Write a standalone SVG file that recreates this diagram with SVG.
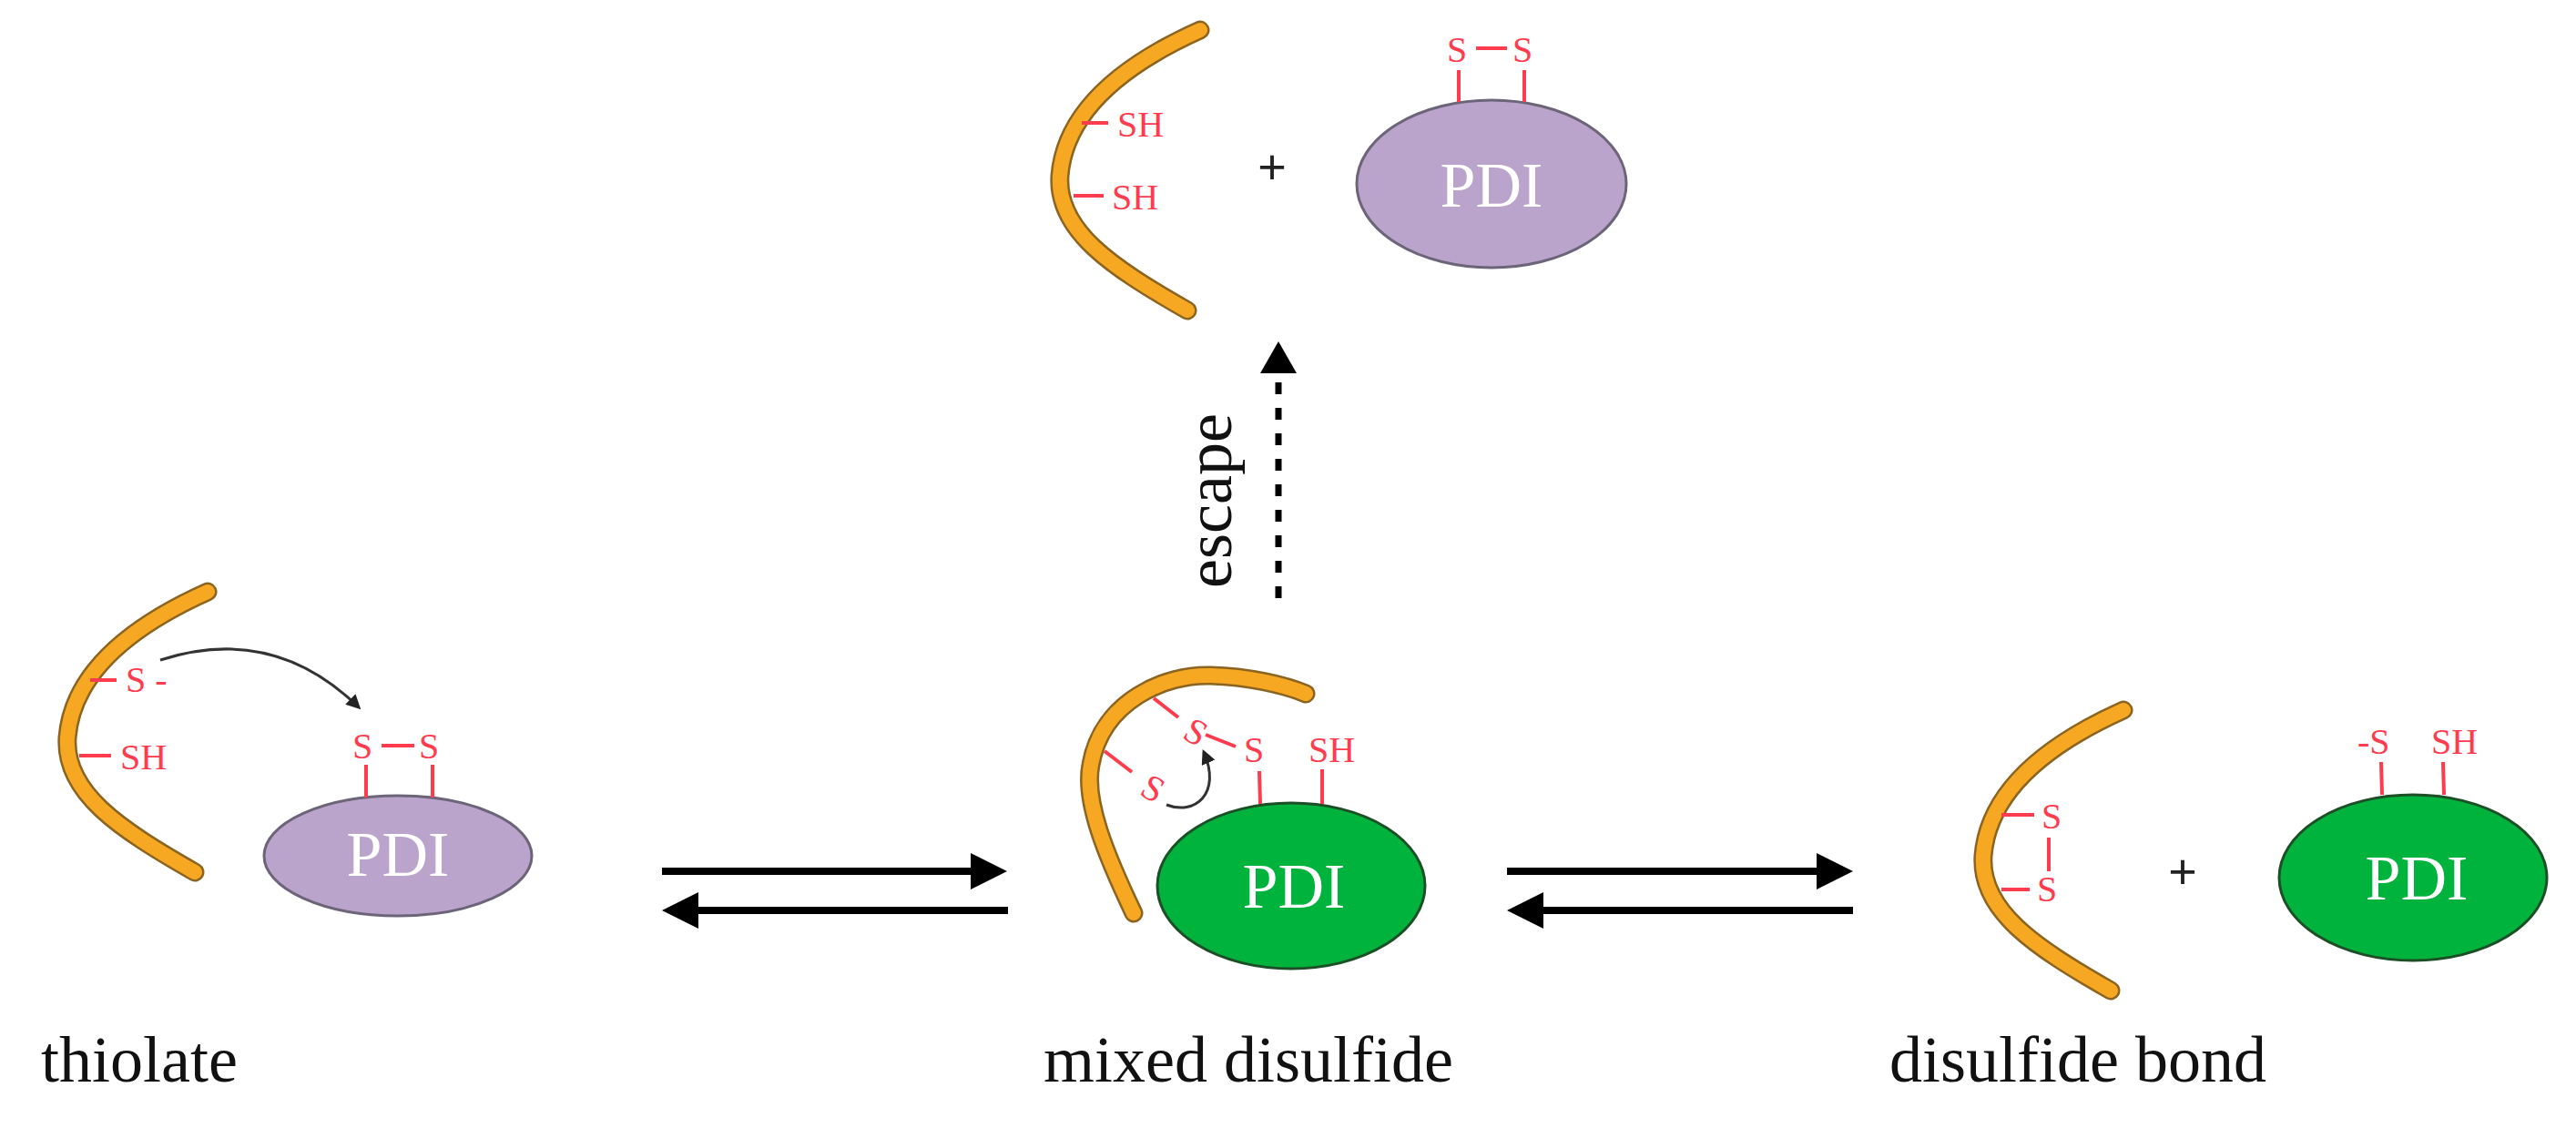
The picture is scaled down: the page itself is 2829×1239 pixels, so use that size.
<svg xmlns="http://www.w3.org/2000/svg" width="2829" height="1239" viewBox="0 0 2829 1239">
<style>
.cb{fill:none;stroke:#8a6420;stroke-width:21;stroke-linecap:round}
.co{fill:none;stroke:#F7A823;stroke-width:16;stroke-linecap:round}
.r{fill:none;stroke:#FF3B4E;stroke-width:4}
.rt{font-family:"Liberation Serif",serif;font-size:40px;fill:#FF3B4E}
.pdi{font-family:"Liberation Serif",serif;font-size:70px;fill:#FFFFFF;text-anchor:middle}
.lab{font-family:"Liberation Serif",serif;font-size:72px;fill:#111}
.pur{fill:#BBA4CB;stroke:#6c6478;stroke-width:3}
.grn{fill:#00B33C;stroke:#1c4f26;stroke-width:3}
.bl{stroke:#000;stroke-width:8;fill:none}
</style>
<defs>
<marker id="ah" viewBox="0 0 10 10" refX="9" refY="5" markerWidth="6" markerHeight="6" markerUnits="userSpaceOnUse" orient="auto"><path d="M0,0L10,5L0,10z" fill="#222"/></marker>
<marker id="sm" viewBox="0 0 10 10" refX="8" refY="5" markerWidth="16" markerHeight="16" markerUnits="userSpaceOnUse" orient="auto"><path d="M0,0L10,5L0,10z" fill="#222"/></marker>
</defs>
<rect width="2829" height="1239" fill="#fff"/>

<g id="thiolate">
<path class="cb" d="M228,650 C150,685 80,735 74,810 C70,870 130,910 214,958"/>
<path class="co" d="M228,650 C150,685 80,735 74,810 C70,870 130,910 214,958"/>
<line class="r" x1="99" y1="747" x2="128" y2="747"/>
<text class="rt" x="138" y="760">S -</text>
<line class="r" x1="87" y1="830" x2="122" y2="830"/>
<text class="rt" x="132" y="845">SH</text>
<path d="M176,725 Q300,685 394,777" fill="none" stroke="#333" stroke-width="3" marker-end="url(#sm)"/>
<ellipse class="pur" cx="437" cy="940" rx="147" ry="66"/>
<line class="r" x1="402" y1="840" x2="402" y2="876"/>
<line class="r" x1="475" y1="840" x2="475" y2="876"/>
<text class="rt" x="387" y="833">S</text>
<line class="r" x1="419" y1="819" x2="455" y2="819"/>
<text class="rt" x="460" y="833">S</text>
<text class="pdi" x="437" y="962">PDI</text>
<text class="lab" x="45" y="1188">thiolate</text>
</g>

<g id="mixed">
<path class="cb" d="M1245,1003 C1215,940 1190,880 1198,840 C1210,770 1280,740 1330,742 C1370,743 1410,752 1434,762"/>
<path class="co" d="M1245,1003 C1215,940 1190,880 1198,840 C1210,770 1280,740 1330,742 C1370,743 1410,752 1434,762"/>
<line class="r" x1="1267" y1="767" x2="1294" y2="788"/>
<text class="rt" transform="translate(1297,810) rotate(30)">S</text>
<line class="r" x1="1324" y1="807" x2="1357" y2="820"/>
<line class="r" x1="1213" y1="825" x2="1243" y2="848"/>
<text class="rt" transform="translate(1250,872) rotate(30)">S</text>
<path d="M1281,884 C1312,896 1342,872 1322,826" fill="none" stroke="#333" stroke-width="3" marker-end="url(#sm)"/>
<ellipse class="grn" cx="1418" cy="973" rx="147" ry="91"/>
<line class="r" x1="1383" y1="847" x2="1384" y2="883"/>
<line class="r" x1="1452" y1="845" x2="1452" y2="883"/>
<text class="rt" x="1366" y="837">S</text>
<text class="rt" x="1437" y="837">SH</text>
<text class="pdi" x="1421" y="997">PDI</text>
<text class="lab" x="1146" y="1188">mixed disulfide</text>
</g>

<g id="disulfide">
<path class="cb" d="M2332,780 C2254,815 2184,865 2178,940 C2174,1000 2234,1040 2318,1088"/>
<path class="co" d="M2332,780 C2254,815 2184,865 2178,940 C2174,1000 2234,1040 2318,1088"/>
<line class="r" x1="2198" y1="895" x2="2234" y2="895"/>
<text class="rt" x="2242" y="910">S</text>
<line class="r" x1="2250" y1="920" x2="2250" y2="957"/>
<line class="r" x1="2198" y1="977" x2="2229" y2="977"/>
<text class="rt" x="2237" y="990">S</text>
<text x="2397" y="976" font-family="Liberation Sans,sans-serif" font-size="54" fill="#222" text-anchor="middle">+</text>
<ellipse class="grn" cx="2650" cy="964" rx="147" ry="91"/>
<line class="r" x1="2615" y1="837" x2="2616" y2="873"/>
<line class="r" x1="2683" y1="837" x2="2684" y2="873"/>
<text class="rt" x="2589" y="828">-S</text>
<text class="rt" x="2670" y="828">SH</text>
<text class="pdi" x="2654" y="988">PDI</text>
<text class="lab" x="2075" y="1188">disulfide bond</text>
</g>

<g id="escaped">
<path class="cb" d="M1318,33 C1240,68 1170,118 1164,193 C1160,253 1220,293 1304,341"/>
<path class="co" d="M1318,33 C1240,68 1170,118 1164,193 C1160,253 1220,293 1304,341"/>
<line class="r" x1="1188" y1="135" x2="1217" y2="135"/>
<text class="rt" x="1227" y="150">SH</text>
<line class="r" x1="1179" y1="215" x2="1212" y2="215"/>
<text class="rt" x="1221" y="230">SH</text>
<text x="1397" y="202" font-family="Liberation Sans,sans-serif" font-size="54" fill="#222" text-anchor="middle">+</text>
<ellipse class="pur" cx="1638" cy="202" rx="148" ry="92"/>
<line class="r" x1="1602" y1="77" x2="1602" y2="112"/>
<line class="r" x1="1674" y1="77" x2="1674" y2="112"/>
<text class="rt" x="1589" y="68">S</text>
<line class="r" x1="1621" y1="53" x2="1655" y2="53"/>
<text class="rt" x="1661" y="68">S</text>
<text class="pdi" x="1638" y="227">PDI</text>
</g>

<g id="connectors">
<line class="bl" x1="727" y1="957" x2="1070" y2="957"/>
<path d="M1106,957L1066,937L1066,977z"/>
<line class="bl" x1="763" y1="1000" x2="1107" y2="1000"/>
<path d="M727,1000L767,980L767,1020z"/>
<line class="bl" x1="1655" y1="957" x2="1998" y2="957"/>
<path d="M2035,957L1995,937L1995,977z"/>
<line class="bl" x1="1691" y1="1000" x2="2035" y2="1000"/>
<path d="M1655,1000L1695,980L1695,1020z"/>
<line x1="1404" y1="657" x2="1404" y2="420" stroke="#000" stroke-width="7" stroke-dasharray="13 15"/>
<path d="M1404,375L1384,410L1424,410z"/>
<text class="lab" transform="translate(1352,646) rotate(-90)">escape</text>
</g>
</svg>
